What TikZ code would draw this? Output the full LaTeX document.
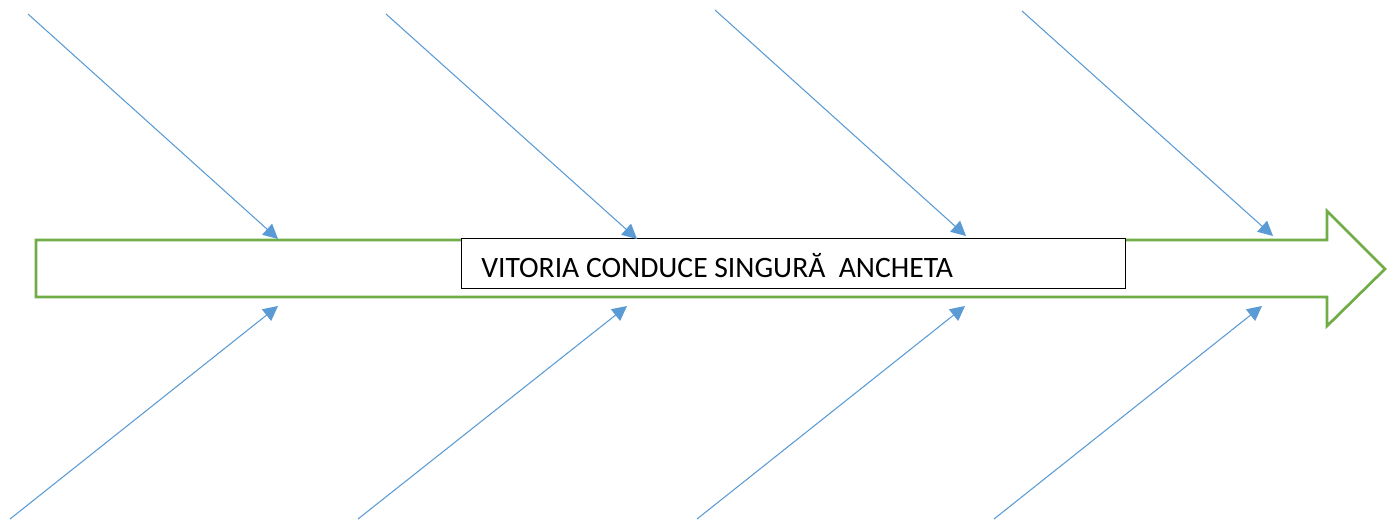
\documentclass[tikz,border=0pt]{standalone}
\usepackage{fontspec}
\setmainfont{Carlito}
\usetikzlibrary{arrows.meta}
\definecolor{fishgreen}{HTML}{70AD47}
\definecolor{boneblue}{HTML}{5B9BD5}
\begin{document}
\begin{tikzpicture}[x=0.75pt,y=-0.75pt,
  spine/.style={draw=fishgreen,line width=2pt,line join=miter},
  bone/.style={draw=boneblue,line width=0.8pt,-{Triangle[length=11pt,width=11pt]}},
  titlebox/.style={draw=black,line width=0.9pt,fill=white,minimum width=498pt,minimum height=37.5pt,inner sep=0pt,anchor=north west},
  titletext/.style={anchor=west,inner sep=0pt,font=\fontsize{22.2}{26}\selectfont}]
\useasboundingbox (0,0) rectangle (1392,519);
% green arrow
\draw[spine] (36,240) -- (1327,240) -- (1327,211) -- (1385,269) -- (1327,326) -- (1327,297) -- (36,297) -- cycle;
% title box
\node[titlebox] (title) at (461,238) {};
\node[titletext] (label) at (481,265.5) {VITORIA CONDUCE SINGURĂ\ \ ANCHETA};
% bone coordinates
\coordinate (t1s) at (28,14);   \coordinate (t1e) at (278,239);
\coordinate (t2s) at (386,14);  \coordinate (t2e) at (637,239);
\coordinate (t3s) at (715,10);  \coordinate (t3e) at (966,236);
\coordinate (t4s) at (1022,11); \coordinate (t4e) at (1273,236);
\coordinate (b1s) at (10,519);  \coordinate (b1e) at (278,306);
\coordinate (b2s) at (358,519); \coordinate (b2e) at (627,306);
\coordinate (b3s) at (697,519); \coordinate (b3e) at (965,306);
\coordinate (b4s) at (994,519); \coordinate (b4e) at (1262,306);
\foreach \n in {t1,t2,t3,t4,b1,b2,b3,b4}
  \draw[bone] (\n s) -- (\n e);
\end{tikzpicture}
\end{document}
